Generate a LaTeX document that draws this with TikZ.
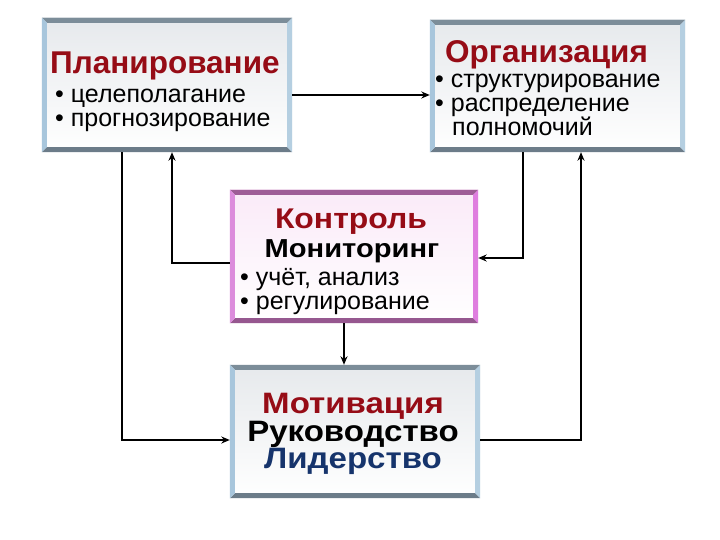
\documentclass[tikz,border=0pt]{standalone}
\usepackage{fontspec}
\setmainfont{Liberation Sans}
\newfontfamily\widefont{Liberation Sans}[FakeStretch=1.12]
\usetikzlibrary{arrows.meta,calc,positioning}
\definecolor{wine}{RGB}{150,12,22}
\definecolor{navy}{RGB}{22,52,108}
\definecolor{steel}{RGB}{124,141,153}
\definecolor{slate}{RGB}{108,124,137}
\definecolor{sky}{RGB}{168,198,220}
\definecolor{plum}{RGB}{158,92,150}
\definecolor{orchid}{RGB}{220,140,220}
\definecolor{mist}{RGB}{230,233,236}
\definecolor{blush}{RGB}{250,234,248}

\tikzset{
  panel/.style={rectangle,inner sep=0pt,top color=mist,bottom color=white},
  pinkpanel/.style={panel,top color=blush,bottom color=white},
  headline/.style={font=\fontsize{31.5}{31.5}\selectfont\bfseries,text=wine,inner sep=0pt,
    text height=22pt,text depth=5pt},
  item/.style={font=\fontsize{25}{25}\selectfont,inner sep=0pt,anchor=base west,
    text height=17pt,text depth=4.5pt},
  link/.style={line width=2pt,-{Stealth[length=8.5pt,width=7pt]}},
}
% bevelled frame round a panel: node, top, bottom, left, right
\newcommand{\bevel}[5]{%
  \fill[#2] (#1.north west) -- (#1.north east) -- ($(#1.north east)+(-5,5)$) -- ($(#1.north west)+(5,5)$) -- cycle;
  \fill[#3] (#1.south west) -- (#1.south east) -- ($(#1.south east)+(-5,-5)$) -- ($(#1.south west)+(5,-5)$) -- cycle;
  \fill[#4] (#1.north west) -- ($(#1.north west)+(5,5)$) -- ($(#1.south west)+(5,-5)$) -- (#1.south west) -- cycle;
  \fill[#5] (#1.north east) -- ($(#1.north east)+(-5,5)$) -- ($(#1.south east)+(-5,-5)$) -- (#1.south east) -- cycle;
}

\begin{document}
\begin{tikzpicture}[x=1pt,y=-1pt]
  \useasboundingbox[fill=white] (0,0) rectangle (720,540);

  % panels
  \node[panel,minimum width=250pt,minimum height=134pt] (plan) at (167,85) {};
  \node[panel,minimum width=255pt,minimum height=132pt] (org) at (557.5,86) {};
  \node[pinkpanel,minimum width=248pt,minimum height=133pt] (ctrl) at (354,256.5) {};
  \node[panel,minimum width=250pt,minimum height=133pt] (motiv) at (355,431.5) {};
  \bevel{plan}{steel}{slate}{sky}{sky!85}
  \bevel{org}{steel}{slate}{sky}{sky!85}
  \bevel{ctrl}{plum}{plum!95!black}{orchid}{orchid!90!magenta}
  \bevel{motiv}{steel}{slate}{sky}{sky!85}

  % texts
  \node[headline,anchor=base west] (planT) at (50,74) {Планирование};
  \node[headline,anchor=base west] (orgT) at (445,63) {Организация};
  \node[headline,anchor=base,font=\widefont\fontsize{28.5}{28.5}\selectfont\bfseries] (ctrlT) at (351,229) {Контроль};
  \node[headline,anchor=base,text=black,font=\widefont\fontsize{26}{26}\selectfont\bfseries] (ctrlM) at (352,257) {Мониторинг};
  \foreach \n/\t/\c/\y in {motivA/Мотивация/wine/413, motivB/Руководство/black/441, motivC/Лидерство/navy/468}
    \node[headline,anchor=base,text=\c,font=\widefont\fontsize{29.5}{29.5}\selectfont\bfseries,
      text height=20pt,text depth=5pt] (\n) at (353,\y) {\t};
  \foreach \n/\t/\x/\y in {
      planA/• целеполагание/55/103,
      planB/• прогнозирование/55/127,
      orgA/• структурирование/435/88,
      orgB/• распределение/435/112,
      orgC/полномочий/452/136,
      ctrlA/{• учёт, анализ}/240/285,
      ctrlB/• регулирование/240/309}
    \node[item] (\n) at (\x,\y) {\t};

  % lanes
  \coordinate (rowTop) at (0,95);
  \coordinate (rowMid) at (0,263);
  \coordinate (rowMidR) at (0,258);
  \coordinate (rowLow) at (0,440);
  \coordinate (laneL) at (122,0);
  \coordinate (laneC) at (172,0);
  \coordinate (laneR) at (523,0);
  \coordinate (laneRR) at (581,0);

  % connectors
  \draw[link] (plan.east |- rowTop) -- (org.west |- rowTop);
  \draw[link] (plan.south -| laneL) |- (motiv.west |- rowLow);
  \draw[link] (ctrl.west |- rowMid) -| (plan.south -| laneC);
  \draw[link] (org.south -| laneR) |- (ctrl.east |- rowMidR);
  \draw[link] (ctrl.south -| 344,0) -- (motiv.north -| 344,0);
  \draw[link] (motiv.east |- rowLow) -| (org.south -| laneRR);
\end{tikzpicture}
\end{document}
